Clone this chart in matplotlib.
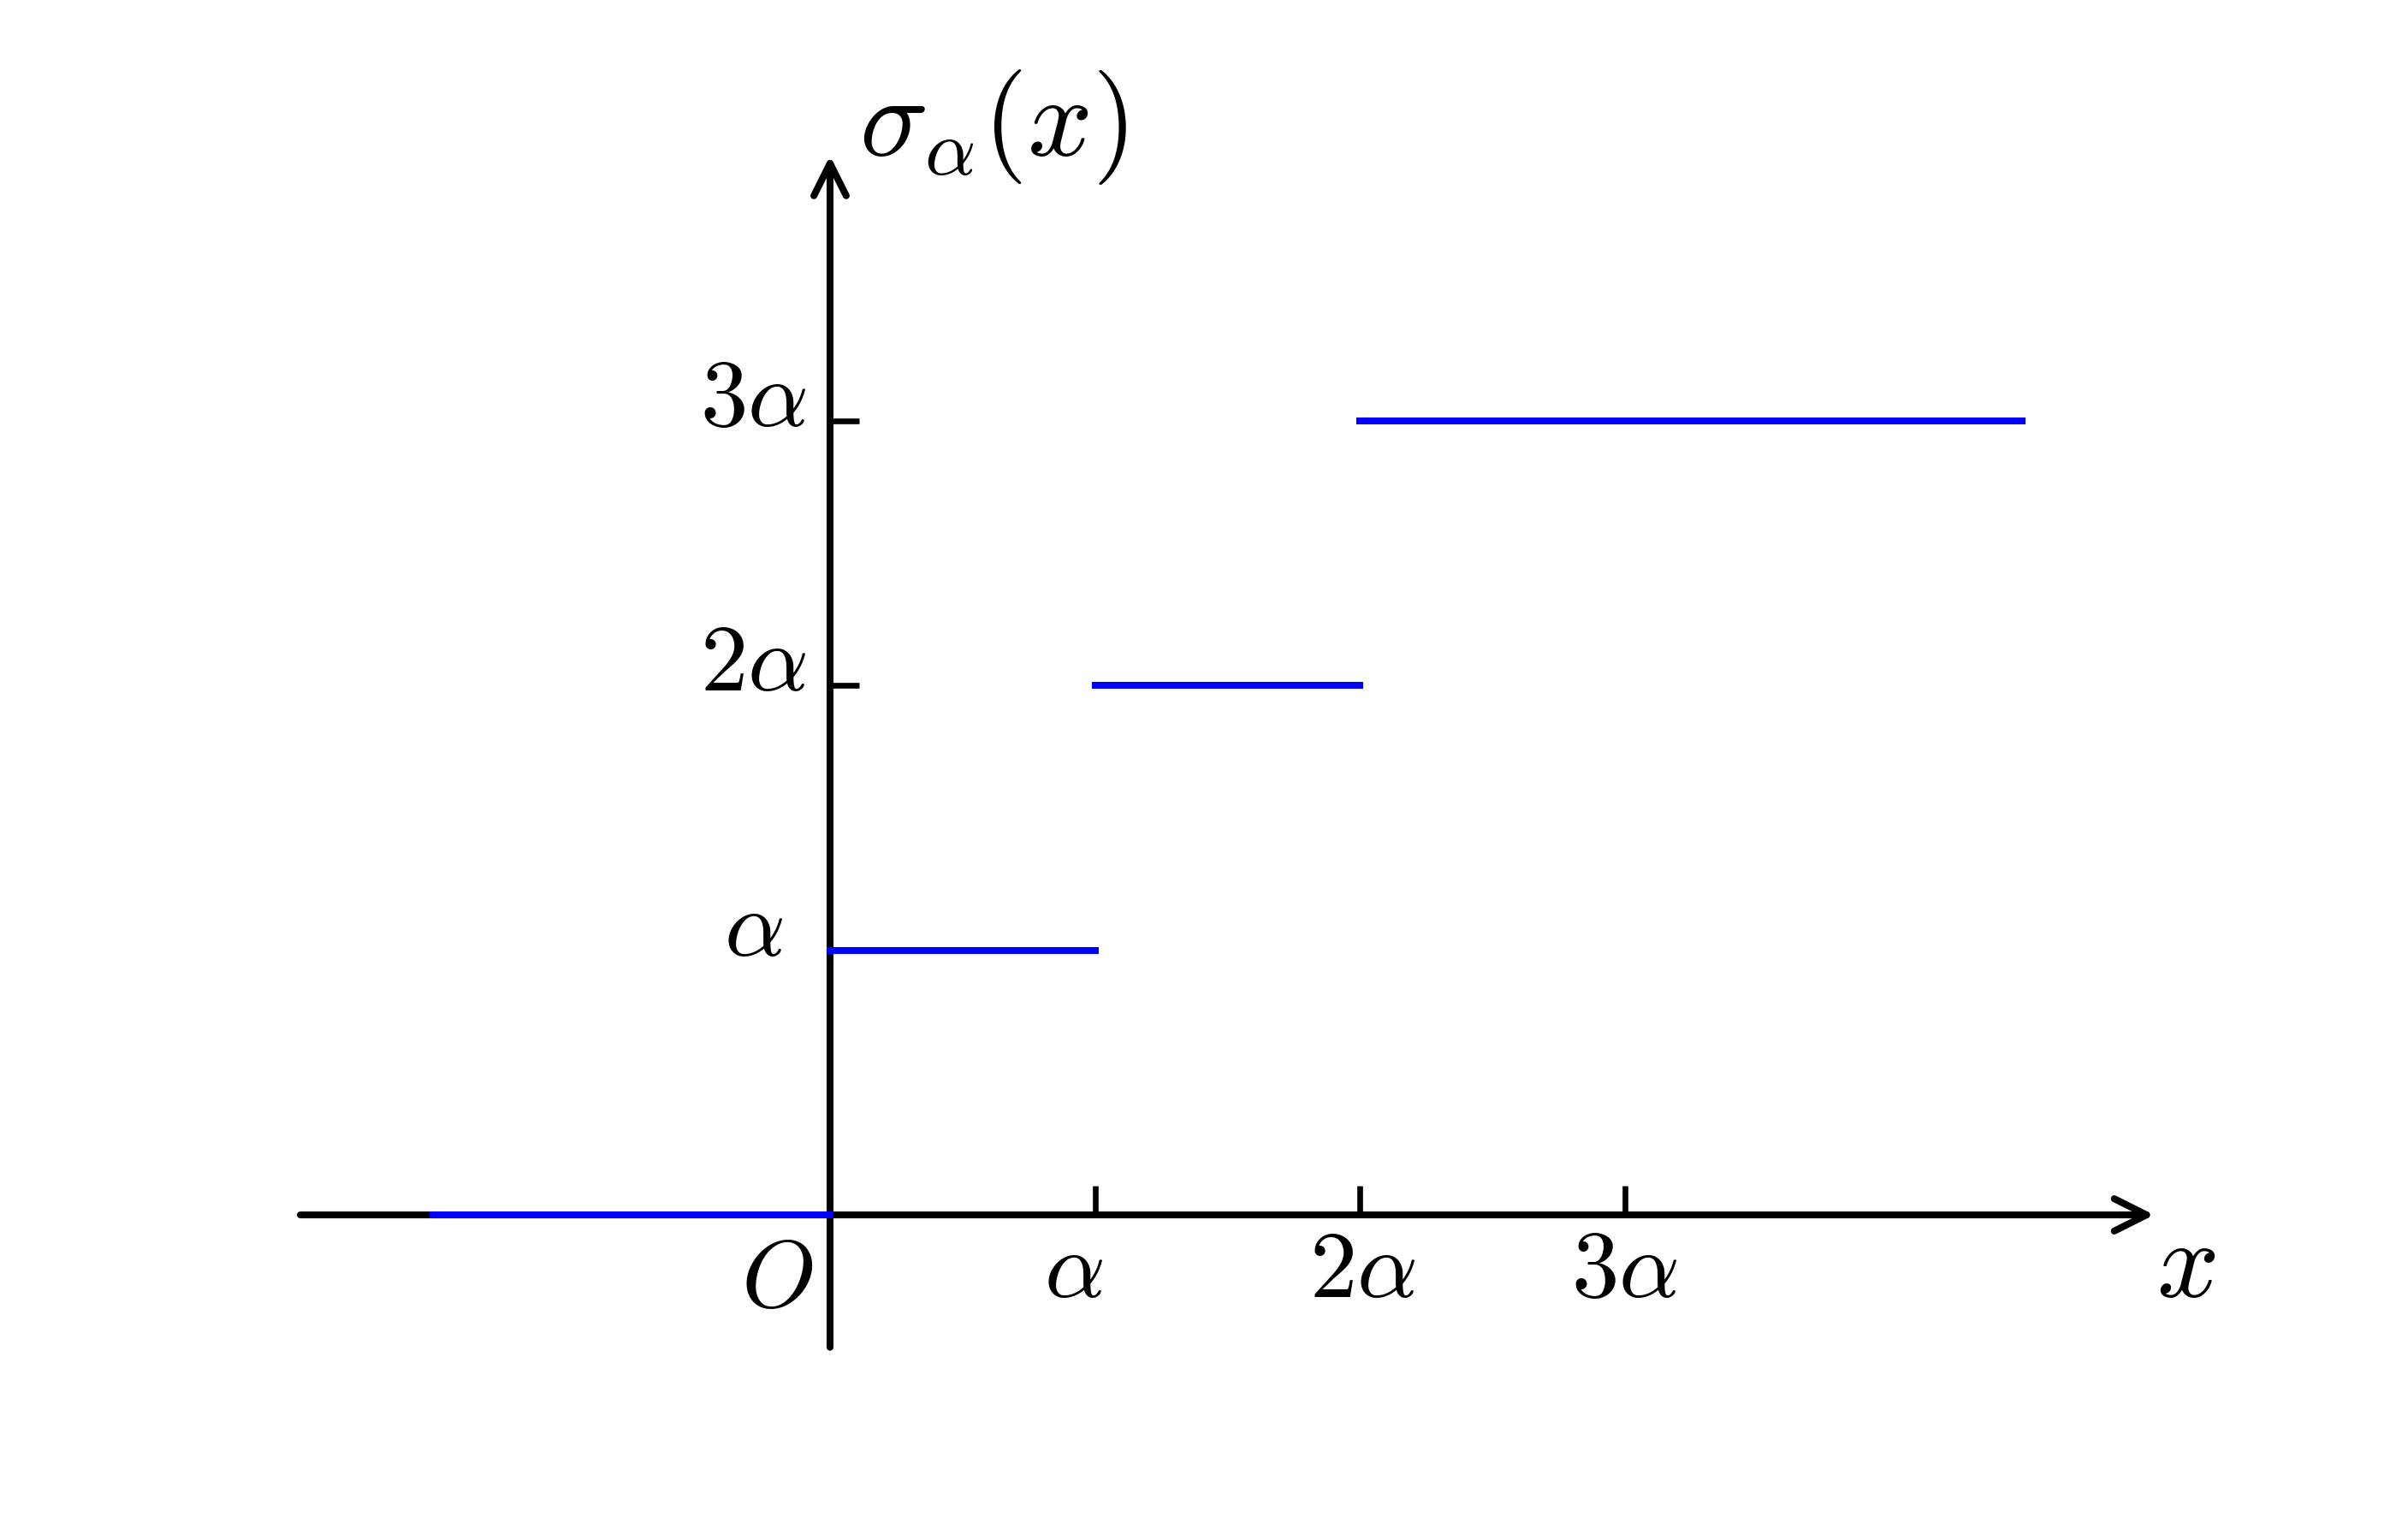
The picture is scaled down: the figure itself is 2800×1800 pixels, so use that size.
import matplotlib.pyplot as plt

plt.rcParams["mathtext.fontset"] = "cm"

# step function sigma_alpha(x), in units of alpha
seg_start = [-1.5, 0, 1, 2]
seg_end = [0, 1, 2, 4.5]
seg_level = [0, 1, 2, 3]

x_ticks = [1, 2, 3]
x_tick_labels = [r"$\alpha$", r"$2\alpha$", r"$3\alpha$"]
y_ticks = [1, 2, 3]
y_tick_labels = [r"$\alpha$", r"$2\alpha$", r"$3\alpha$"]

x_range = (-2, 5)
y_range = (-0.5, 4)


def draw_step_plot():
    fig = plt.figure(figsize=(14, 9), dpi=200)
    ax = fig.add_axes([0, 0, 1, 1])

    # origin at (970, 1420) px, one alpha = 309.5 px
    unit = 309.5
    ax.set_xlim(-970 / unit, (2800 - 970) / unit)
    ax.set_ylim(-380 / unit, (1800 - 380) / unit)
    ax.axis("off")

    lw = 2.9
    axis_kw = dict(arrowstyle="->,head_length=0.4,head_width=0.2", lw=lw,
                   color="black", shrinkA=0, shrinkB=0, mutation_scale=34,
                   capstyle="round", joinstyle="round")
    ax.annotate("", xy=(x_range[1], 0), xytext=(x_range[0], 0), arrowprops=axis_kw)
    ax.annotate("", xy=(0, y_range[1]), xytext=(0, y_range[0]), arrowprops=axis_kw)

    # tick marks (pointing inwards)
    tick_len = 0.11
    ax.vlines(x_ticks, 0, tick_len, color="black", lw=2.4)
    ax.hlines(y_ticks, 0, tick_len, color="black", lw=2.4)

    # the steps
    steps = ax.hlines(seg_level, seg_start, seg_end, color="#0000ff", lw=lw, zorder=3)
    steps.set_capstyle("projecting")

    fs = 40
    offsets = [-0.08, 0.01, 0.0]
    for xv, lab, dx in zip(x_ticks, x_tick_labels, offsets):
        ax.text(xv + dx, -0.31, lab, fontsize=fs, ha="center", va="baseline")
    for yv, lab in zip(y_ticks, y_tick_labels):
        ax.text(-0.29, yv - 0.02, lab, fontsize=fs, ha="center", va="baseline")
    ax.text(-0.2, -0.35, r"$O$", fontsize=fs, ha="center", va="baseline")

    ax.text(5.12, -0.31, r"$x$", fontsize=46, ha="center", va="baseline")
    ax.text(0.11, 4.0, r"$\sigma_{\alpha}(x)$", fontsize=48, ha="left", va="baseline")

    fig.savefig("out.png", dpi=200)


if __name__ == "__main__":
    draw_step_plot()
